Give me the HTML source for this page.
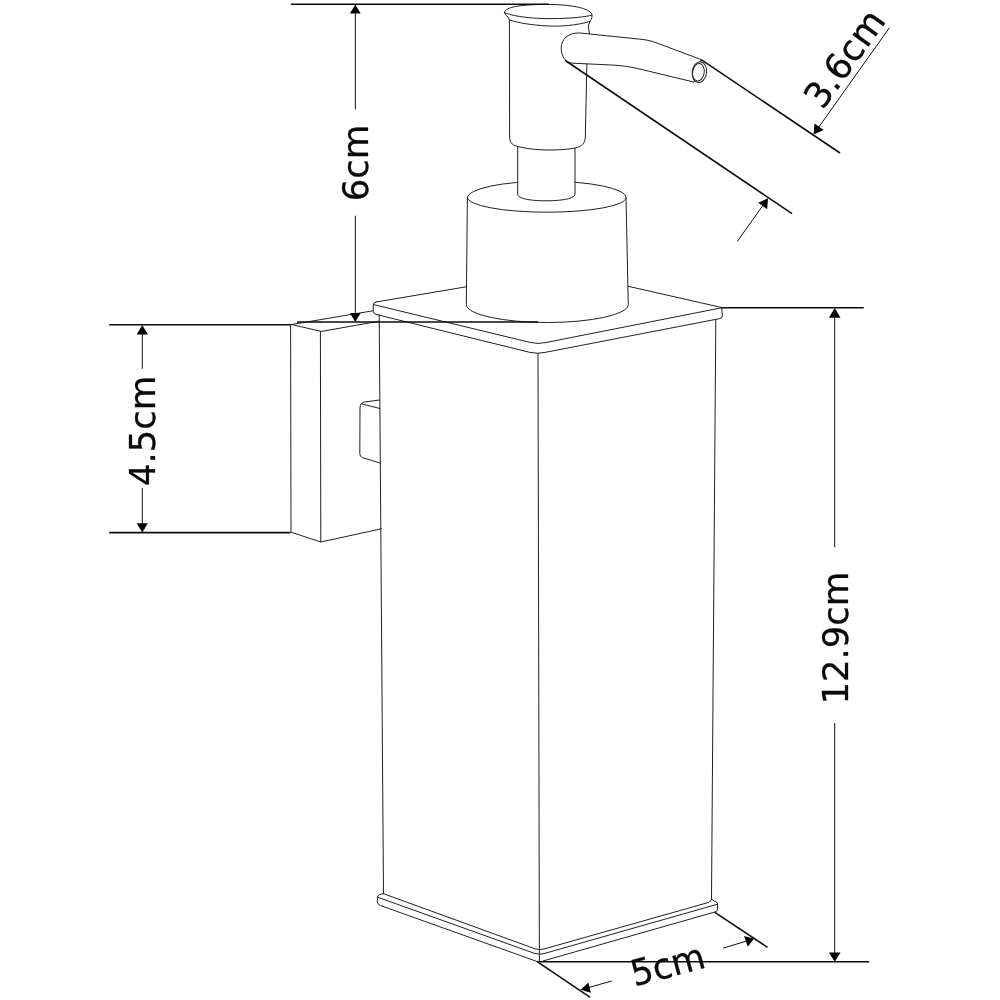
<!DOCTYPE html>
<html lang="en">
<head>
<meta charset="utf-8">
<title>Soap dispenser dimensions</title>
<style>
  html, body { margin: 0; padding: 0; background: #ffffff; }
  body { width: 1000px; height: 1000px; overflow: hidden; }
  svg { display: block; will-change: transform; filter: grayscale(1); }
  .obj { fill: none; stroke: #202020; stroke-width: 1.0; stroke-linecap: round; stroke-linejoin: round; }
  .objf { fill: #ffffff; stroke: #202020; stroke-width: 1.0; stroke-linecap: round; stroke-linejoin: round; }
  .dim { fill: none; stroke: #0c0c0c; stroke-width: 1.55; stroke-linecap: butt; }
  .dimt { fill: none; stroke: #101010; stroke-width: 1.0; stroke-linecap: butt; }
  .ah { fill: #000000; stroke: none; }
  text { font-family: "DejaVu Sans", "Liberation Sans", sans-serif; font-size: 36px; fill: #0a0a0a; stroke: #0a0a0a; stroke-width: 0.3px; }
</style>
</head>
<body>
<svg width="1000" height="1000" viewBox="0 0 1000 1000">
  <rect x="0" y="0" width="1000" height="1000" fill="#ffffff"/>

  <!-- ===== OBJECT ===== -->
  <g id="object">
    <!-- wall bracket -->
    <g id="bracket">
      <path class="obj" d="M290.6 324.7 L291 532.2 L320.8 542 L320.4 331.6 Z"/>
      <path class="obj" d="M290.6 324.7 L372.8 310.8"/>
      <path class="obj" d="M320.4 331.6 L379.2 321.2"/>
      <path class="obj" d="M320.8 542 L381.4 528.8"/>
      <!-- connector block -->
      <path class="obj" d="M379.6 400 L364.5 402 Q360 402.8 360 408 L359.8 453.5 Q359.8 456.8 362.5 457.6 L380.5 463.2"/>
      <path class="obj" d="M362 404 L380 408.5"/>
    </g>

    <!-- main body -->
    <g id="body">
      <path class="obj" d="M379.2 314.8 L383.5 893.7"/>
      <path class="obj" d="M538 353.2 L539.4 961.5"/>
      <path class="obj" d="M715.8 319.8 L711.5 899.4"/>
      <!-- base -->
      <path class="obj" d="M383.5 893.7 L535 948.8 Q539.4 950.3 544 949 L708 902.6 Q711 901.6 711.5 899.4"/>
      <path class="obj" d="M383.5 893.7 Q378.5 894 377.4 897.2 L377.3 902 Q377.6 904.6 380.6 905.6 L536.8 961.4"/>
      <path class="obj" d="M377.6 897.2 L534 953.2 Q539.4 955 544 953.6 L717.2 904.3"/>
      <path class="obj" d="M711.5 899.4 L716.8 902.4 Q717.6 902.8 717.6 904 L717.5 909.6 Q717.4 911.4 714.5 912.1 L543 961"/>
    </g>

    <!-- lid -->
    <g id="lid">
      <path class="obj" d="M376 302 L466.2 286.8"/>
      <path class="obj" d="M628.3 286.3 L721.6 307.5"/>
      <path class="obj" d="M376 302 Q373 302.8 373.2 305 L373.3 311.5 Q373.4 313.6 376 314.4 L530 352.4 Q537.5 354.2 545 352.4 L719.8 318.6 Q722.4 318.1 722.3 316 L721.7 307.5"/>
      <path class="obj" d="M373.6 304.6 L530 342.4 Q538 344.4 546 342.5 L721.6 307.8"/>
    </g>

    <!-- collar cylinder -->
    <g id="collar">
      <path class="obj" d="M467.4 197.6 L466.3 304.5 A81 18 0 0 0 628.3 304.5 L626 197.6"/>
      <path class="obj" d="M467.4 197.6 A79.3 16.4 0 0 1 626 197.6 A79.3 14.6 0 0 1 467.4 197.6 Z"/>
    </g>

    <!-- neck -->
    <g id="neck">
      <path class="objf" d="M517.7 146 L517.7 194 C517.7 198.6 530 200.8 546 200.8 C562 200.8 575 198.6 575 194 L575 147 Z"/>
    </g>

    <!-- pump head -->
    <g id="head">
      <path class="objf" d="M509.4 20 L509.6 137 C509.8 143.5 513 145.6 519 146.8 C530 149.4 540 150 548 150 C558 150 567 149.6 575 148 C582 146.6 585 143.5 585.3 137 L586.9 64 L589.3 33 L588.3 26 L590 21.4"/>
      <path class="objf" d="M504.4 12.4 C504.4 6.5 524 4.4 548 4.4 C574 4.6 592 9 592 15.4 C592.2 19 590.6 20 590 21.4 C576 25.6 560 26.6 548 26 C530 25 518 22.8 509.4 19.8 C508.6 16.4 504.6 15.6 504.4 12.4 Z"/>
      <path class="obj" d="M504.6 12.6 C512 16 530 18.8 552 18.6 C572 18.4 586 17 592 15"/>
    </g>

    <!-- nozzle -->
    <g id="nozzle">
      <path class="objf" d="M580 33 C568 32.2 561.2 39.5 561.2 47.8 C561.2 56.4 565.6 63 572.5 63.2 L609.4 64.9 C622 65.5 630 66.9 636.4 68.2 L694 82.1 L701.2 59.6 L657 43 C650 40.4 646 39.8 640 39.2 Z"/>
      <ellipse class="objf" cx="699.4" cy="72.2" rx="7.2" ry="10.4" transform="rotate(8 699.4 72.2)"/>
      <ellipse class="obj" cx="698.4" cy="72.2" rx="5.8" ry="8.8" transform="rotate(8 698.4 72.2)"/>
    </g>
  </g>

  <!-- ===== DIMENSIONS ===== -->
  <g id="dims">
    <!-- 6cm -->
    <path class="dim" d="M290.8 4.2 L548.8 4.2"/>
    <path class="dimt" d="M355.3 12 L355.3 109.4 M355.3 215.8 L355.3 314"/>
    <path class="ah" d="M355.3 4.4 L349.9 13.6 L360.7 13.6 Z"/>
    <path class="ah" d="M355.3 322 L349.9 313 L360.7 313 Z"/>
    <path class="dim" d="M297 322 L538 322"/>
    <text transform="translate(368.3 201.3) rotate(-90) scale(0.985 1)">6cm</text>

    <!-- 4.5cm -->
    <path class="dim" d="M109.2 324.7 L290.5 324.7"/>
    <path class="dim" d="M109.2 532.6 L290.5 532.6"/>
    <path class="dimt" d="M142.3 333 L142.3 368.8 M142.3 488 L142.3 524"/>
    <path class="ah" d="M142.3 325 L136.7 334.6 L147.9 334.6 Z"/>
    <path class="ah" d="M142.3 532.6 L136.7 523.2 L147.9 523.2 Z"/>
    <text transform="translate(155.2 486.1) rotate(-90) scale(0.985 1)">4.5cm</text>

    <!-- 12.9cm -->
    <path class="dim" d="M721.6 307.7 L863.8 307.7"/>
    <path class="dim" d="M538 961.8 L869.2 961.8"/>
    <path class="dimt" d="M834.7 316 L834.7 547 M834.7 723 L834.7 953"/>
    <path class="ah" d="M834.7 308 L828.9 317.8 L840.5 317.8 Z"/>
    <path class="ah" d="M834.7 961.8 L828.9 952.6 L840.5 952.6 Z"/>
    <text transform="translate(848 704.6) rotate(-90) scale(0.985 1)">12.9cm</text>

    <!-- 5cm -->
    <path class="dim" d="M536.8 961.4 L590.2 997.4"/>
    <path class="dim" d="M714.5 912.1 L767.5 947.3"/>
    <path class="dimt" d="M611.8 981 L588 987.7"/>
    <path class="ah" d="M580.6 989.8 L588.4 982.6 L590.8 992.8 Z"/>
    <path class="dimt" d="M723 948.2 L746 941.2"/>
    <path class="ah" d="M754 938.7 L744.1 936 L747.7 946.8 Z"/>
    <text transform="translate(634.6 986.6) rotate(-15) scale(0.966 1)">5cm</text>

    <!-- 3.6cm -->
    <path class="dim" d="M565.3 60.5 L792 213.6"/>
    <path class="dim" d="M701.2 59.6 L840 153"/>
    <path class="dimt" d="M889.5 27.6 L818.5 127.5"/>
    <path class="ah" d="M813.6 134.4 L814.5 123.4 L823.7 129.9 Z"/>
    <path class="dimt" d="M737.3 241.4 L763.2 205"/>
    <path class="ah" d="M768 198.3 L767.2 209.2 L758.2 202.8 Z"/>
    <text transform="translate(822.6 110.8) rotate(-54.5) scale(0.985 1)">3.6cm</text>
  </g>
</svg>
</body>
</html>
